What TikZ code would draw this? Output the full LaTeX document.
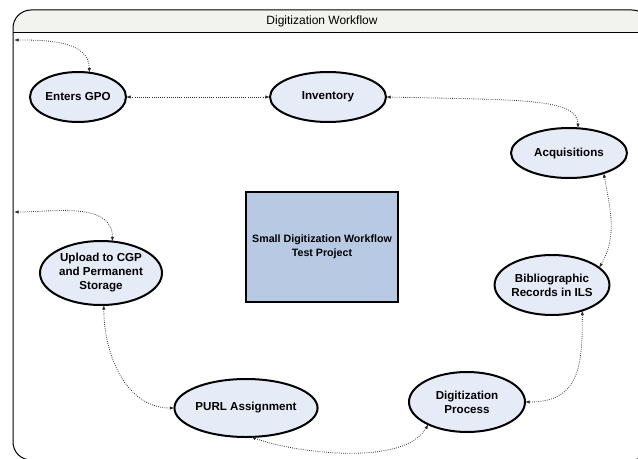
\documentclass[tikz,border=0pt]{standalone}
\usepackage{fontspec}
\setmainfont{Liberation Sans}
\usetikzlibrary{shapes.geometric,arrows.meta}

\definecolor{stagefill}{HTML}{E6ECF7}
\definecolor{projfill}{HTML}{B8CAE3}
\definecolor{headfill}{HTML}{F2F2EE}
\definecolor{flowline}{HTML}{2B2B2B}

\begin{document}
\begin{tikzpicture}[x = 0.75pt, y = 0.75pt,
            every node/.style = {inner sep = 0pt,
                                outer sep = 0pt},
            stage/.style      = {ellipse,
                                draw,
                                line width = 1.5pt,
                                fill       = stagefill,
                                align      = center,
                                font       = \fontsize{8.7}{10.5}\selectfont\bfseries},
            project/.style    = {draw,
                                line width     = 1.5pt,
                                fill           = projfill,
                                align          = center,
                                minimum width  = 114pt,
                                minimum height = 83pt,
                                font           = \fontsize{8}{10.5}\selectfont\bfseries},
            flow/.style       = {draw = flowline,
                                densely dotted,
                                line width = 0.6pt,
                                {Latex[length=3.5pt,width=2.6pt]}-{Latex[length=3.5pt,width=2.6pt]}}
            ]
    \useasboundingbox (0,0) rectangle (638,458);
    \begin{scope}
        \clip (0,0) rectangle (638,458);
        \fill [headfill] (13,425) [rounded corners=13.5pt] -- (13,448) -- (650,448)
              [sharp corners] -- (650,425) -- cycle;
        \draw [line width=0.75pt, rounded corners=13.5pt]
              (13,-2) -- (13,448) -- (650,448) -- (650,-2) -- cycle;
        \draw [line width=0.75pt] (13,425) -- (650,425);
    \end{scope}
    \node (title) at (322,437) {\fontsize{9}{11}\selectfont Digitization Workflow};

    \path (14,418) coordinate (topin)
          (14,246) coordinate (midin);

    \node [stage, minimum width = 72pt, minimum height = 37.5pt] (gpo)  at (78,361)  {Enters GPO};
    \node [stage, minimum width = 87pt, minimum height = 37.5pt] (inv)  at (328,361) {Inventory};
    \node [stage, minimum width = 87pt, minimum height = 37.5pt] (acq)  at (569,305) {Acquisitions};
    \node [stage, minimum width = 84pt, minimum height = 45pt]   (bib)  at (552,173) {Bibliographic\\Records in ILS};
    \node [stage, minimum width = 87pt, minimum height = 45pt]   (dig)  at (467,56)  {Digitization\\Process};
    \node [stage, minimum width = 87pt, minimum height = 43.5pt] (purl) at (246,50)  {PURL Assignment};
    \node [stage, minimum width = 91.5pt, minimum height = 48pt] (upl)  at (101,185) {Upload to CGP\\and Permanent\\Storage};
    \node [project] (proj) at (322,211) {Small Digitization Workflow\\Test Project};

    \draw [flow] (topin) to[out=0, in=90] (gpo.65);
    \draw [flow] (gpo) -- (inv);
    \draw [flow] (inv.east) .. controls (520,358) and (578,360) .. (acq.70);
    \draw [flow] (acq.-30) to[out=-80, in=60] (bib.20);
    \draw [flow] (bib.-40) to[out=-90, in=0, looseness=1.3] (dig.east);
    \draw [flow] (dig.-150) to[out=-120, in=-20, looseness=0.7] (purl.-80);
    \draw [flow] (upl.-85) to[out=-90, in=180] (purl.west);
    \draw [flow] (midin) to[out=0, in=90] (upl.70);
\end{tikzpicture}
\end{document}
